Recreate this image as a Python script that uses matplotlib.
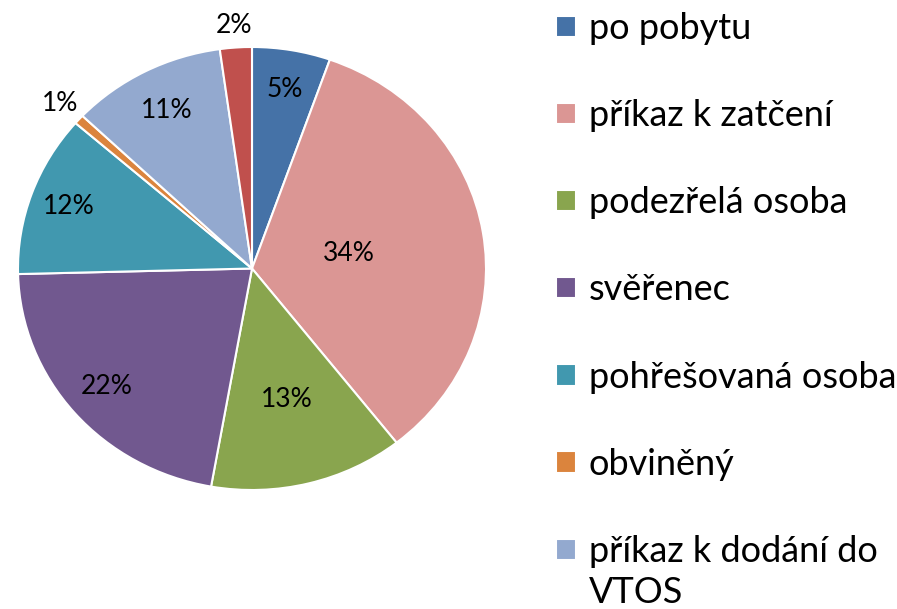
import numpy as np
import matplotlib.pyplot as plt

plt.rcParams['font.family'] = ['Lato', 'DejaVu Sans']

# data (share of cases, %)
categories = ['po pobytu', 'příkaz k zatčení', 'podezřelá osoba', 'svěřenec',
              'pohřešovaná osoba', 'obviněný', 'příkaz k dodání do VTOS', 'ostatní']
shares = [5.4, 34.0, 13.4, 21.8, 11.8, 0.7, 10.7, 2.2]
colors = ['#4572A7', '#DB9694', '#89A54E', '#71588F',
          '#4198AF', '#DB843D', '#93A9CF', '#C0504D']

# radial position of each percent label (fraction of radius)
label_dist = [0.82, 0.42, 0.61, 0.82, 0.83, 1.11, 0.80, 1.10]

fig = plt.figure(figsize=(8.97, 6.09), dpi=100)
W, H = 897, 609
# pie box in pixels (left, top, right, bottom) - reference is slightly stretched
x0, y0, x1, y1 = 18, 47, 486, 490
ax = fig.add_axes([x0 / W, (H - y1) / H, (x1 - x0) / W, (y1 - y0) / H])

wedges, _ = ax.pie(shares, colors=colors, startangle=90, counterclock=False,
                   wedgeprops=dict(edgecolor='white', linewidth=1.5))
ax.set_xlim(-1, 1)
ax.set_ylim(-1, 1)
ax.set_aspect('auto')

total = sum(shares)
for w, s, d in zip(wedges, shares, label_dist):
    mid = np.deg2rad((w.theta1 + w.theta2) / 2)
    ax.text(d * np.cos(mid), d * np.sin(mid), f'{s / total * 100:.0f}%',
            ha='center', va='center', fontsize=19, color='black')

# the reference legend runs off the bottom after the 7th entry;
# the long label wraps there with the handle on its first line
n_shown = 7
legend_labels = []
wrapped = {}
for i, c in enumerate(categories[:n_shown]):
    if c == 'příkaz k dodání do VTOS':
        legend_labels.append('příkaz k dodání do')
        wrapped[i] = 'VTOS'
    else:
        legend_labels.append(c)

leg = fig.legend(wedges[:n_shown], legend_labels, loc='upper left',
                 bbox_to_anchor=(556 / W, 1 - 12 / H), frameon=False,
                 fontsize=26, handlelength=0.55, handleheight=0.53,
                 handletextpad=0.36, labelspacing=1.5, borderpad=0,
                 borderaxespad=0)

fig.canvas.draw()
texts = leg.get_texts()
for i, rest in wrapped.items():
    bb = texts[i].get_window_extent()
    fig.text(bb.x0 / W, (bb.y0 - 41) / H, rest, fontsize=26,
             ha='left', va='bottom')

fig.savefig('out.png', dpi=100)
